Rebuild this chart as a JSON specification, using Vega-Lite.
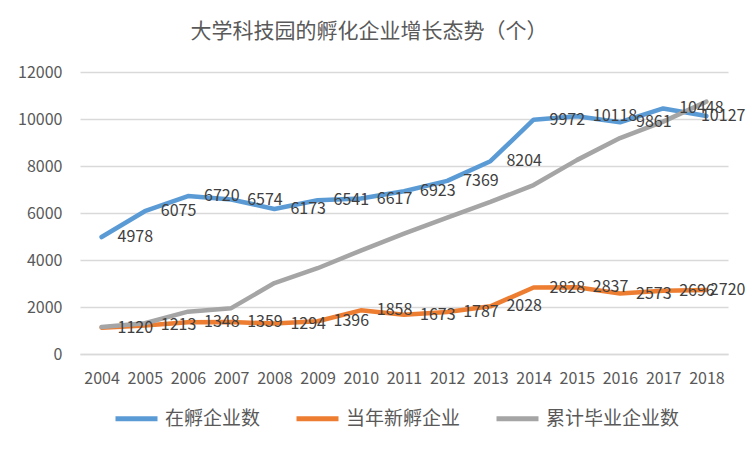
{
  "$schema": "https://vega.github.io/schema/vega-lite/v6.json",
  "description": "大学科技园的孵化企业增长态势",
  "width": 648,
  "height": 282,
  "autosize": {"type": "none"},
  "padding": {"left": 80, "top": 72, "right": 24, "bottom": 98},
  "background": "white",
  "title": {
    "text": "大学科技园的孵化企业增长态势（个）",
    "font": "Noto Sans CJK SC",
    "fontSize": 21,
    "fontWeight": "normal",
    "color": "#595959",
    "anchor": "middle",
    "frame": "group",
    "dx": -35,
    "offset": 22
  },
  "config": {
    "view": {"stroke": null},
    "font": "Noto Sans CJK SC"
  },
  "data": {
    "values": [
      {"year": "2004", "series": "在孵企业数", "value": 4978},
      {"year": "2005", "series": "在孵企业数", "value": 6075},
      {"year": "2006", "series": "在孵企业数", "value": 6720},
      {"year": "2007", "series": "在孵企业数", "value": 6574},
      {"year": "2008", "series": "在孵企业数", "value": 6173},
      {"year": "2009", "series": "在孵企业数", "value": 6541},
      {"year": "2010", "series": "在孵企业数", "value": 6617},
      {"year": "2011", "series": "在孵企业数", "value": 6923},
      {"year": "2012", "series": "在孵企业数", "value": 7369},
      {"year": "2013", "series": "在孵企业数", "value": 8204},
      {"year": "2014", "series": "在孵企业数", "value": 9972},
      {"year": "2015", "series": "在孵企业数", "value": 10118},
      {"year": "2016", "series": "在孵企业数", "value": 9861},
      {"year": "2017", "series": "在孵企业数", "value": 10448},
      {"year": "2018", "series": "在孵企业数", "value": 10127},
      {"year": "2004", "series": "当年新孵企业", "value": 1120},
      {"year": "2005", "series": "当年新孵企业", "value": 1213},
      {"year": "2006", "series": "当年新孵企业", "value": 1348},
      {"year": "2007", "series": "当年新孵企业", "value": 1359},
      {"year": "2008", "series": "当年新孵企业", "value": 1294},
      {"year": "2009", "series": "当年新孵企业", "value": 1396},
      {"year": "2010", "series": "当年新孵企业", "value": 1858},
      {"year": "2011", "series": "当年新孵企业", "value": 1673},
      {"year": "2012", "series": "当年新孵企业", "value": 1787},
      {"year": "2013", "series": "当年新孵企业", "value": 2028},
      {"year": "2014", "series": "当年新孵企业", "value": 2828},
      {"year": "2015", "series": "当年新孵企业", "value": 2837},
      {"year": "2016", "series": "当年新孵企业", "value": 2573},
      {"year": "2017", "series": "当年新孵企业", "value": 2696},
      {"year": "2018", "series": "当年新孵企业", "value": 2720},
      {"year": "2004", "series": "累计毕业企业数", "value": 1150},
      {"year": "2005", "series": "累计毕业企业数", "value": 1310},
      {"year": "2006", "series": "累计毕业企业数", "value": 1800},
      {"year": "2007", "series": "累计毕业企业数", "value": 1950},
      {"year": "2008", "series": "累计毕业企业数", "value": 3020},
      {"year": "2009", "series": "累计毕业企业数", "value": 3650},
      {"year": "2010", "series": "累计毕业企业数", "value": 4400},
      {"year": "2011", "series": "累计毕业企业数", "value": 5120},
      {"year": "2012", "series": "累计毕业企业数", "value": 5800},
      {"year": "2013", "series": "累计毕业企业数", "value": 6470},
      {"year": "2014", "series": "累计毕业企业数", "value": 7190},
      {"year": "2015", "series": "累计毕业企业数", "value": 8250},
      {"year": "2016", "series": "累计毕业企业数", "value": 9190},
      {"year": "2017", "series": "累计毕业企业数", "value": 9890},
      {"year": "2018", "series": "累计毕业企业数", "value": 10740}
    ]
  },
  "encoding": {
    "x": {
      "field": "year",
      "type": "ordinal",
      "scale": {"type": "point", "padding": 0.5},
      "axis": {
        "title": null,
        "labelAngle": 0,
        "labelFontSize": 16,
        "labelColor": "#595959",
        "labelPadding": 16,
        "ticks": false,
        "domainColor": "#D9D9D9",
        "domainWidth": 1.5,
        "grid": false
      }
    },
    "y": {
      "field": "value",
      "type": "quantitative",
      "scale": {"domain": [0, 12000]},
      "axis": {
        "title": null,
        "values": [0, 2000, 4000, 6000, 8000, 10000, 12000],
        "format": "d",
        "labelFontSize": 16,
        "labelColor": "#595959",
        "labelPadding": 18,
        "ticks": false,
        "domain": false,
        "gridColor": "#D9D9D9",
        "gridWidth": 1.5
      }
    }
  },
  "layer": [
    {
      "mark": {"type": "line", "strokeWidth": 4.5, "strokeCap": "round", "strokeJoin": "round"},
      "encoding": {
        "color": {
          "field": "series",
          "type": "nominal",
          "sort": null,
          "scale": {
            "domain": ["在孵企业数", "当年新孵企业", "累计毕业企业数"],
            "range": ["#5B9BD5", "#ED7D31", "#A5A5A5"]
          },
          "legend": {
            "title": null,
            "orient": "none",
            "legendX": 33,
            "legendY": 323,
            "direction": "horizontal",
            "symbolType": "stroke",
            "symbolSize": 1764,
            "symbolStrokeWidth": 5,
            "labelFontSize": 19,
            "labelColor": "#595959",
            "labelLimit": 300,
            "labelOffset": 5,
            "columnPadding": 25
          }
        }
      }
    },
    {
      "transform": [
        {"filter": "datum.series !== '累计毕业企业数'"},
        {"filter": "datum.year !== '2018'"}
      ],
      "mark": {"type": "text", "align": "left", "baseline": "middle", "dx": 16, "fontSize": 16, "color": "#404040"},
      "encoding": {
        "text": {"field": "value", "type": "quantitative", "format": "d"}
      }
    },
    {
      "transform": [
        {"filter": "datum.series !== '累计毕业企业数'"},
        {"filter": "datum.year === '2018'"}
      ],
      "mark": {"type": "text", "align": "right", "baseline": "middle", "dx": 39, "fontSize": 16, "color": "#404040"},
      "encoding": {
        "text": {"field": "value", "type": "quantitative", "format": "d"}
      }
    }
  ]
}
